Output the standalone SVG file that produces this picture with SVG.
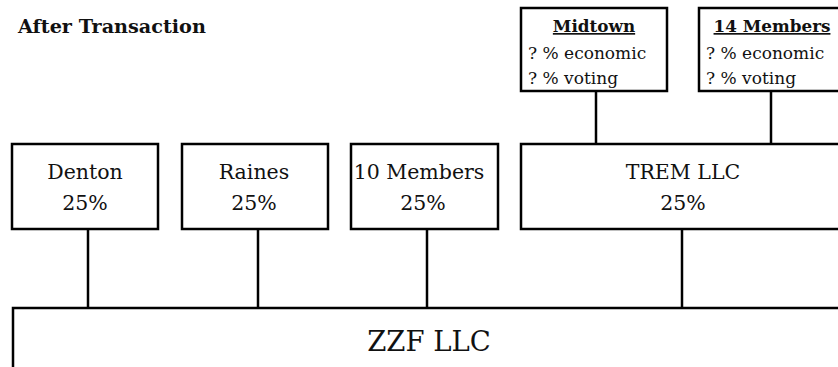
<svg xmlns="http://www.w3.org/2000/svg" width="838" height="367" viewBox="0 0 838 367">
<style>
.box{fill:#fff;stroke:#000;stroke-width:2.5}
.ln{stroke:#000;stroke-width:2.5;fill:none}
text{font-family:"DejaVu Serif","Liberation Serif",serif;fill:#111}
.t{font-size:20.5px;text-anchor:middle}
.s{font-size:17px}
.h{font-size:16.8px;font-weight:bold;text-anchor:middle;text-decoration:underline}
.title{font-size:19.2px;font-weight:bold}
.big{font-size:27.5px;text-anchor:middle}
</style>
<rect width="838" height="367" fill="#fff"/>
<text class="title" x="18" y="33">After Transaction</text>
<g id="connectors">
<line class="ln" x1="88" y1="229" x2="88" y2="308"/>
<line class="ln" x1="258" y1="229" x2="258" y2="308"/>
<line class="ln" x1="427" y1="229" x2="427" y2="308"/>
<line class="ln" x1="682" y1="229" x2="682" y2="308"/>
<line class="ln" x1="596" y1="91" x2="596" y2="144"/>
<line class="ln" x1="771" y1="91" x2="771" y2="144"/>
</g>
<g id="midtown">
<rect class="box" x="521" y="8" width="146" height="83"/>
<text class="h" x="594" y="32">Midtown</text>
<text class="s" x="528" y="59">? % economic</text>
<text class="s" x="528" y="84">? % voting</text>
</g>
<g id="members14">
<rect class="box" x="699" y="8" width="150" height="83"/>
<text class="h" x="772" y="32">14 Members</text>
<text class="s" x="706" y="59">? % economic</text>
<text class="s" x="706" y="84">? % voting</text>
</g>
<g id="denton">
<rect class="box" x="12" y="144" width="146" height="85"/>
<text class="t" x="85" y="179">Denton</text>
<text class="t" x="85" y="210">25%</text>
</g>
<g id="raines">
<rect class="box" x="182" y="144" width="146" height="85"/>
<text class="t" x="254" y="179">Raines</text>
<text class="t" x="254" y="210">25%</text>
</g>
<g id="members10">
<rect class="box" x="351" y="144" width="147" height="85"/>
<text class="t" x="419" y="179">10 Members</text>
<text class="t" x="423" y="210">25%</text>
</g>
<g id="trem">
<rect class="box" x="521" y="144" width="330" height="85"/>
<text class="t" x="683" y="179">TREM LLC</text>
<text class="t" x="683" y="210">25%</text>
</g>
<g id="zzf">
<rect class="box" x="13" y="308" width="840" height="80"/>
<text class="big" x="429" y="351">ZZF LLC</text>
</g>
</svg>
